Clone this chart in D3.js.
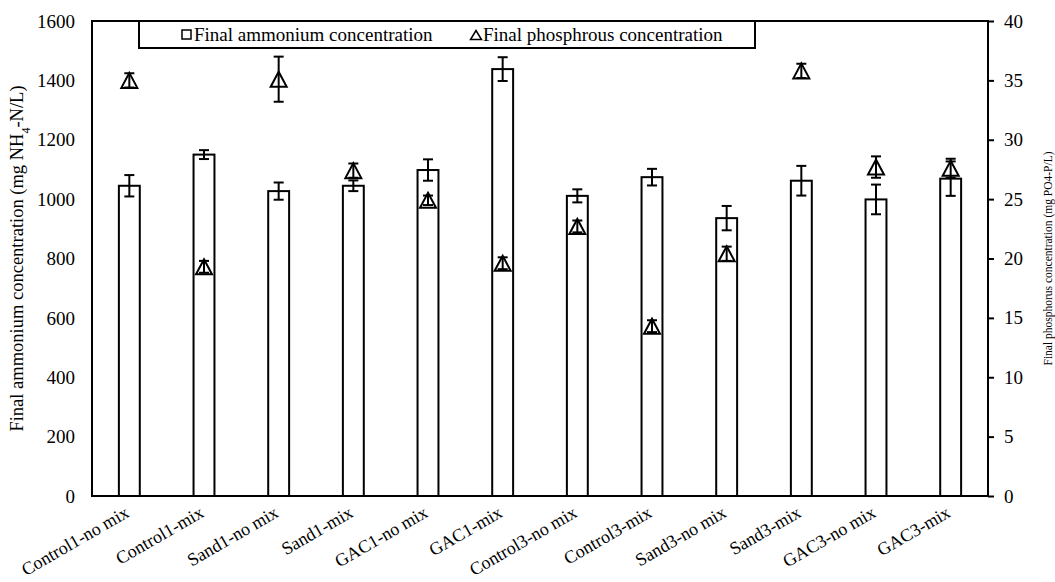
<!DOCTYPE html>
<html>
<head>
<meta charset="utf-8">
<script src="https://cdn.jsdelivr.net/npm/d3@7"></script>
<style>
  body { margin: 0; background: #fff; }
</style>
</head>
<body>
<div id="chart"></div>
<script>
// data
var categories = ["Control1-no mix", "Control1-mix", "Sand1-no mix", "Sand1-mix", "GAC1-no mix", "GAC1-mix",
  "Control3-no mix", "Control3-mix", "Sand3-no mix", "Sand3-mix", "GAC3-no mix", "GAC3-mix"];
var ammonium = [1045, 1150, 1027, 1045, 1098, 1438, 1011, 1074, 936, 1062, 999, 1069];
var ammoniumErr = [36, 15, 29, 18, 36, 40, 22, 28, 41, 50, 50, 58];
var phosphorus = [35.0, 19.3, 35.1, 27.4, 24.9, 19.6, 22.7, 14.3, 20.4, 35.8, 27.7, 27.6];
var phosphorusErr = [0.6, 0.5, 1.9, 0.6, 0.4, 0.5, 0.5, 0.5, 0.6, 0.6, 0.9, 0.8];
var leftTicks = [0, 200, 400, 600, 800, 1000, 1200, 1400, 1600];
var rightTicks = [0, 5, 10, 15, 20, 25, 30, 35, 40];

var width = 1055, height = 582;
var margin = {top: 21, right: 67, bottom: 86, left: 92};
var x0 = margin.left, x1 = width - margin.right, y0 = height - margin.bottom, y1 = margin.top;
var font = "'Liberation Serif', 'Times New Roman', Times, 'DejaVu Serif', serif";

var svg = d3.select("#chart").append("svg")
  .attr("width", width)
  .attr("height", height)
  .attr("font-family", font);

var x = d3.scaleBand().domain(categories).range([x0, x1]).paddingInner(0.72).paddingOuter(0.36);
var yL = d3.scaleLinear().domain([0, 1600]).range([y0, y1]);
var yR = d3.scaleLinear().domain([0, 40]).range([y0, y1]);
var cx = function(d) { return x(d) + x.bandwidth() / 2; };

// frame
svg.append("rect")
  .attr("x", x0).attr("y", y1)
  .attr("width", x1 - x0).attr("height", y0 - y1)
  .attr("fill", "none").attr("stroke", "#000").attr("stroke-width", 2);

// bars
svg.append("g").selectAll("rect")
  .data(categories)
  .enter().append("rect")
  .attr("x", (d) => x(d))
  .attr("y", (d, i) => yL(ammonium[i]))
  .attr("width", x.bandwidth())
  .attr("height", (d, i) => y0 - yL(ammonium[i]))
  .attr("fill", "#fff").attr("stroke", "#000").attr("stroke-width", 2);

function errorBars(vals, errs, scale) {
  var g = svg.append("g").attr("stroke", "#000").attr("stroke-width", 2);
  categories.forEach(function(c, i) {
    var hi = scale(vals[i] + errs[i]), lo = scale(vals[i] - errs[i]), m = cx(c);
    g.append("line").attr("x1", m).attr("x2", m).attr("y1", hi).attr("y2", lo);
    g.append("line").attr("x1", m - 5).attr("x2", m + 5).attr("y1", hi).attr("y2", hi);
    g.append("line").attr("x1", m - 5).attr("x2", m + 5).attr("y1", lo).attr("y2", lo);
  });
}

errorBars(ammonium, ammoniumErr, yL);

// triangles
var tri = "M0,-7.5L8,7.5L-8,7.5Z";
svg.append("g").selectAll("path")
  .data(categories)
  .enter().append("path")
  .attr("d", tri)
  .attr("transform", (d, i) => "translate(" + cx(d) + "," + yR(phosphorus[i]) + ")")
  .attr("fill", "#fff").attr("stroke", "#000").attr("stroke-width", 2);

errorBars(phosphorus, phosphorusErr, yR);

// left axis labels
svg.append("g").selectAll("text")
  .data(leftTicks)
  .enter().append("text")
  .attr("x", x0 - 17)
  .attr("y", (d) => yL(d))
  .attr("dy", "0.35em")
  .attr("text-anchor", "end")
  .style("font-family", font)
  .style("font-size", "19px")
  .text((d) => d);

// right axis
var rAxis = svg.append("g")
  .attr("transform", "translate(" + x1 + ",0)")
  .call(d3.axisRight(yR).tickValues(rightTicks).tickSize(6).tickPadding(10));
rAxis.select(".domain").remove();
rAxis.selectAll("line").attr("stroke", "#000").attr("stroke-width", 2);
rAxis.selectAll("text")
  .style("font-family", font)
  .style("font-size", "19px")
  .attr("fill", "#000");

// category labels
svg.append("g").selectAll("text")
  .data(categories)
  .enter().append("text")
  .attr("transform", (d) => "translate(" + (cx(d) + 1) + "," + (y0 + 20) + ") rotate(-30)")
  .attr("text-anchor", "end")
  .style("font-family", font)
  .style("font-size", "18px")
  .text((d) => d);

// axis titles
var lt = svg.append("text")
  .attr("transform", "translate(23," + ((y0 + y1) / 2) + ") rotate(-90)")
  .attr("text-anchor", "middle")
  .style("font-family", font)
  .style("font-size", "18.5px");
lt.append("tspan").text("Final ammonium concentration (mg NH");
lt.append("tspan").attr("baseline-shift", "sub").style("font-size", "12px").text("4");
lt.append("tspan").text("-N/L)");

svg.append("text")
  .attr("transform", "translate(1052," + ((y0 + y1) / 2) + ") rotate(-90)")
  .attr("text-anchor", "middle")
  .style("font-family", font)
  .style("font-size", "11.5px")
  .text("Final phosphorus concentration (mg PO4-P/L)");

// legend
var lg = svg.append("g");
lg.append("rect")
  .attr("x", 139).attr("y", y1)
  .attr("width", 616).attr("height", 27)
  .attr("fill", "#fff").attr("stroke", "#000").attr("stroke-width", 2);
lg.append("rect")
  .attr("x", 182).attr("y", 30).attr("width", 9).attr("height", 9)
  .attr("fill", "#fff").attr("stroke", "#000").attr("stroke-width", 1.5);
lg.append("text").attr("x", 194).attr("y", 41)
  .style("font-family", font).style("font-size", "19px")
  .text("Final ammonium concentration");
lg.append("path")
  .attr("d", "M0,-4.5L5.5,4.5L-5.5,4.5Z")
  .attr("transform", "translate(476,35)")
  .attr("fill", "#fff").attr("stroke", "#000").attr("stroke-width", 1.5);
lg.append("text").attr("x", 483).attr("y", 41)
  .style("font-family", font).style("font-size", "19px")
  .text("Final phosphrous concentration");
</script>
</body>
</html>
